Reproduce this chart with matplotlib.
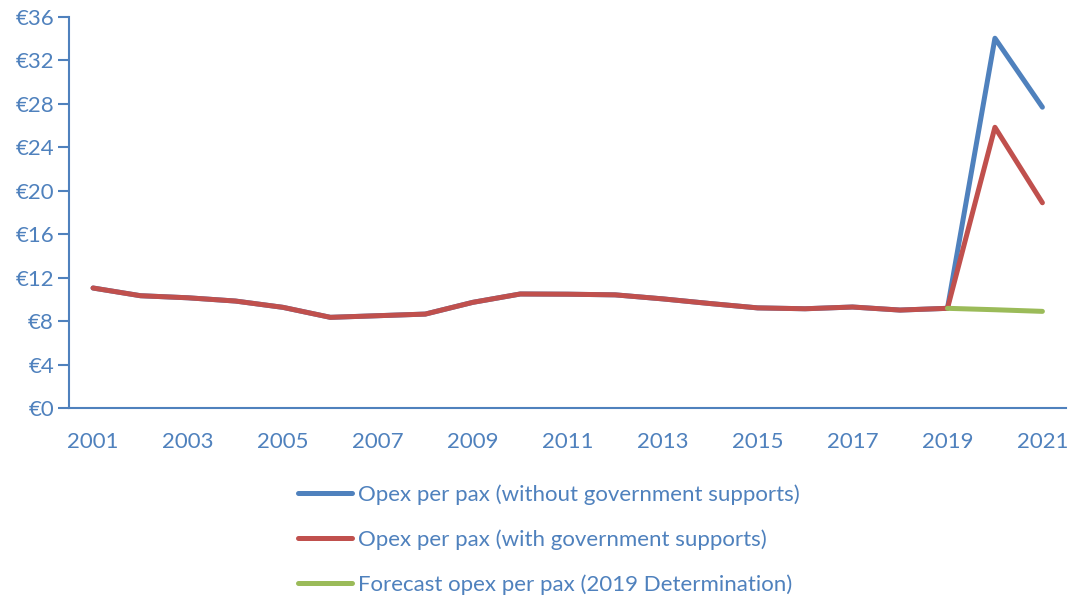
import matplotlib.pyplot as plt

years = list(range(2001, 2022))
opex_without = [11.05, 10.34, 10.15, 9.85, 9.27, 8.35, 8.5, 8.65, 9.73, 10.5,
                10.48, 10.42, 10.05, 9.62, 9.22, 9.14, 9.3, 9.02, 9.18, 34.05, 27.7]
opex_with = [11.05, 10.34, 10.15, 9.85, 9.27, 8.35, 8.5, 8.65, 9.73, 10.5,
             10.48, 10.42, 10.05, 9.62, 9.22, 9.14, 9.3, 9.02, 9.18, 25.85, 18.9]
forecast_years = [2019, 2020, 2021]
forecast = [9.18, 9.05, 8.9]

labels = ['Opex per pax (without government supports)',
          'Opex per pax (with government supports)',
          'Forecast opex per pax (2019 Determination)']

text_col = '#4F81BD'
plt.rcParams['font.family'] = ['Lato', 'DejaVu Sans']

fig = plt.figure(figsize=(10.73, 5.96), dpi=100)
ax = fig.add_axes([0.0646, 0.3154, 0.929, 0.656])

lw = 3.6
l1, = ax.plot(years, opex_without, color='#4F81BD', lw=lw, solid_capstyle='round', solid_joinstyle='round')
l2, = ax.plot(years, opex_with, color='#C0504D', lw=lw, solid_capstyle='round', solid_joinstyle='round')
l3, = ax.plot(forecast_years, forecast, color='#9BBB59', lw=lw, solid_capstyle='round', solid_joinstyle='round')

ax.set_xlim(2000.5, 2021.5)
ax.set_ylim(0, 36)
ax.set_yticks(range(0, 37, 4))
ax.set_yticklabels([f'€{v}' for v in range(0, 37, 4)])
ax.set_xticks(years[::2])
ax.set_xticklabels([str(y) for y in years[::2]])

for s in ['top', 'right']:
    ax.spines[s].set_visible(False)
for s in ['left', 'bottom']:
    ax.spines[s].set_color(text_col)
    ax.spines[s].set_linewidth(1.5)
ax.tick_params(axis='y', colors=text_col, labelsize=16, length=8, width=1.5, pad=3)
ax.tick_params(axis='x', colors=text_col, labelsize=16, length=0, pad=17)

fig.legend([l1, l2, l3], labels, loc='upper left', bbox_to_anchor=(298 / 1073, 1 - 484 / 596),
           frameon=False, fontsize=16, handlelength=2.45, handletextpad=0.27,
           labelspacing=1.1, borderpad=0, borderaxespad=0, labelcolor=text_col)

fig.savefig('out.png', dpi=100)
